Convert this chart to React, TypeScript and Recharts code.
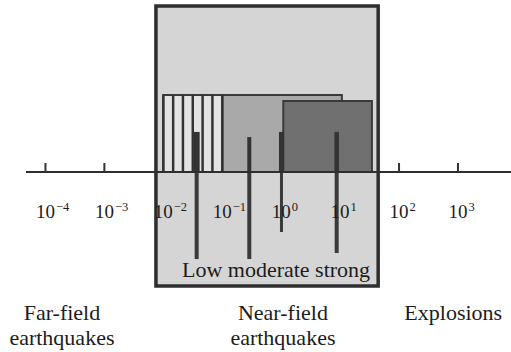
import React from 'react';
import { ComposedChart, XAxis, YAxis, ReferenceArea, ReferenceLine, Label } from 'recharts';

// x values are log10 of the quantity; y values are arbitrary heights (axis baseline = 0)
const decadeTicks = [-4, -3, -2, -1, 0, 1, 2, 3];
const outsideTickMarks = [-4, -3, 2, 3];
const axisExtent = [-4.33, 3.9];

const categoryPositions = [-3.72, 0.03, 2.92];
const categoryLines = [
  ['Far-field', 'earthquakes'],
  ['Near-field', 'earthquakes'],
  ['Explosions'],
];

const nearFieldX = [-2.125, 1.646];
const nearFieldY = [-66.3, 96.5];

const zoneNames = ['Low', 'moderate', 'strong'];
const zoneStart = [-2, -1, 0.036];
const zoneEnd = [-1, 1.03, 1.54];
const zoneTop = [44.8, 44.8, 41.3];

const stripePositions = [-2, -1.833, -1.667, -1.5, -1.333, -1.167, -1];

const markerX = [-1.434, -0.541, 0.005, 0.942];
const markerTop = [23.3, 20.3, 23.3, 23.3];
const markerBottom = [-50.6, -50.6, -34.9, -47.1];

const boxCaption = 'Low moderate strong';

const FONT = '"Liberation Serif", "DejaVu Serif", serif';
const INK = '#1c1c1c';
const zoneFill = ['#e3e3e3', '#a9a9a9', '#707070'];
const markerUpperWidth = [6, 4, 5, 4.5];
const markerLowerWidth = [4, 4, 3, 4];

const DecadeTick = (props: any) => {
  const { x, y, payload } = props;
  const v = payload.value as number;
  const sup = v < 0 ? `\u2212${-v}` : `${v}`;
  return (
    <g>
      {outsideTickMarks.includes(v) && (
        <line x1={x} x2={x} y1={y - 9} y2={y} stroke="#333" strokeWidth={2} />
      )}
      <text x={x} y={y + 46} textAnchor="middle" fontFamily={FONT} fontSize={19} fill={INK}>
        10
      </text>
      <text x={x + 10.5} y={y + 38.5} textAnchor="start" fontFamily={FONT} fontSize={12.5} fill={INK}>
        {sup}
      </text>
    </g>
  );
};

const CategoryTick = (props: any) => {
  const { x, y, index } = props;
  const lines = categoryLines[index] || [];
  return (
    <g>
      {lines.map((t, i) => (
        <text key={i} x={x} y={y + 98 + i * 25} textAnchor="middle" fontFamily={FONT} fontSize={22} fill={INK}>
          {t}
        </text>
      ))}
    </g>
  );
};

const data = decadeTicks.map((v) => ({ x: v, y: 0 }));

export default function App() {
  return (
    <div style={{ position: 'absolute', left: 0, top: 0, width: 511, height: 352, background: '#fff' }}>
      <ComposedChart
        width={511}
        height={352}
        data={data}
        margin={{ top: 0, right: 0, left: 26, bottom: 0 }}
      >
        <XAxis
          dataKey="x"
          type="number"
          domain={axisExtent}
          allowDataOverflow
          ticks={decadeTicks}
          interval={0}
          height={50}
          tickSize={0}
          tickMargin={0}
          tickLine={false}
          axisLine={{ stroke: '#2e2e2e', strokeWidth: 2 }}
          tick={<DecadeTick />}
        />
        <XAxis
          xAxisId="cat"
          dataKey="x"
          type="number"
          domain={axisExtent}
          allowDataOverflow
          ticks={categoryPositions}
          interval={0}
          height={130}
          tickSize={0}
          tickMargin={0}
          tickLine={false}
          axisLine={false}
          tick={<CategoryTick />}
        />
        <YAxis hide type="number" domain={[0, 100]} allowDataOverflow />

        <ReferenceArea
          x1={nearFieldX[0]}
          x2={nearFieldX[1]}
          y1={nearFieldY[0]}
          y2={nearFieldY[1]}
          ifOverflow="visible"
          fill="#d5d5d5"
          fillOpacity={1}
          stroke="#2e2e2e"
          strokeWidth={3.5}
        >
          <Label
            content={(p: any) => {
              const vb = p.viewBox || {};
              return (
                <text
                  x={vb.x + 26}
                  y={vb.y + vb.height - 9}
                  fontFamily={FONT}
                  fontSize={22}
                  fill={INK}
                  textAnchor="start"
                >
                  {boxCaption}
                </text>
              );
            }}
          />
        </ReferenceArea>

        {[1, 0, 2].map((i) => (
          <ReferenceArea
            key={zoneNames[i]}
            x1={zoneStart[i]}
            x2={zoneEnd[i]}
            y1={0}
            y2={zoneTop[i]}
            ifOverflow="visible"
            fill={zoneFill[i]}
            fillOpacity={1}
            stroke="#3a3a3a"
            strokeWidth={2}
          />
        ))}

        {stripePositions.map((s, i) => (
          <ReferenceLine
            key={`s${i}`}
            segment={[
              { x: s, y: 0 },
              { x: s, y: zoneTop[0] },
            ]}
            ifOverflow="visible"
            stroke="#333"
            strokeWidth={2.5}
          />
        ))}

        {markerX.map((mx, i) => (
          <ReferenceLine
            key={`mu${i}`}
            segment={[
              { x: mx, y: markerTop[i] },
              { x: mx, y: 0 },
            ]}
            ifOverflow="visible"
            stroke="#333"
            strokeWidth={markerUpperWidth[i]}
          />
        ))}
        {markerX.map((mx, i) => (
          <ReferenceLine
            key={`ml${i}`}
            segment={[
              { x: mx, y: 0 },
              { x: mx, y: markerBottom[i] },
            ]}
            ifOverflow="visible"
            stroke="#3a3a3a"
            strokeWidth={markerLowerWidth[i]}
          />
        ))}
        <ReferenceLine
          segment={[
            { x: axisExtent[0], y: 0 },
            { x: axisExtent[1], y: 0 },
          ]}
          ifOverflow="visible"
          stroke="#2e2e2e"
          strokeWidth={2}
        />
      </ComposedChart>
    </div>
  );
}
